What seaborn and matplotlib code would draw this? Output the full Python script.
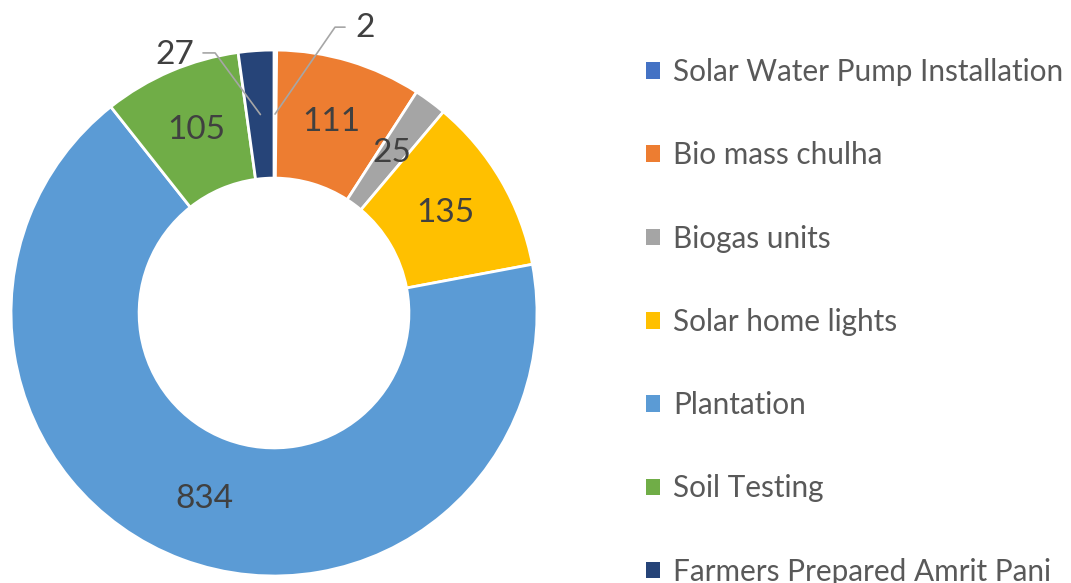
import numpy as np
import matplotlib
matplotlib.use("Agg")
import matplotlib.pyplot as plt
import seaborn as sns
from matplotlib.patches import Patch

# dados do gráfico
categorias = ['Solar Water Pump Installation', 'Bio mass chulha', 'Biogas units',
              'Solar home lights', 'Plantation', 'Soil Testing',
              'Farmers Prepared Amrit Pani']
valores = [2, 111, 25, 135, 834, 105, 27]
cores = ['#4472C4', '#ED7D31', '#A5A5A5', '#FFC000', '#5B9BD5', '#70AD47', '#264478']

sns.set_theme(style='white')
plt.rcParams['font.family'] = ['Lato', 'DejaVu Sans']

fig = plt.figure(figsize=(10.71, 5.83), dpi=100)
ax = fig.add_axes([0.0103, 0.012, 0.4911, 0.9022])

raio_interno = 0.513
wedges, _ = ax.pie(valores, colors=sns.color_palette(cores), startangle=90, counterclock=False,
                   radius=1, wedgeprops=dict(width=1 - raio_interno, edgecolor='white', linewidth=2))
ax.set_xlim(-1, 1)
ax.set_ylim(-1, 1)
ax.set_aspect('equal')
ax.axis('off')

r_meio = (1 + raio_interno) / 2
cor_texto = '#404040'
cor_linha = '#A6A6A6'

# rótulos pequenos ficam fora com linha guia
externos = {
    0: dict(cotovelo=(0.232, 1.087), fim=(0.27, 1.087), texto=(0.346, 1.084)),
    6: dict(cotovelo=(-0.224, 0.989), fim=(-0.27, 0.989), texto=(-0.376, 0.98)),
}

for i, w in enumerate(wedges):
    ang = np.deg2rad((w.theta1 + w.theta2) / 2)
    x, y = r_meio * np.cos(ang), r_meio * np.sin(ang)
    if i in externos:
        e = externos[i]
        ax.plot([x, e['cotovelo'][0], e['fim'][0]], [y, e['cotovelo'][1], e['fim'][1]],
                color=cor_linha, lw=1.2, clip_on=False)
        ax.text(e['texto'][0], e['texto'][1], str(valores[i]), ha='center', va='center',
                fontsize=24, color=cor_texto)
    else:
        ax.text(x, y, str(valores[i]), ha='center', va='center', fontsize=24, color=cor_texto)

handles = [Patch(facecolor=c, edgecolor='none') for c in cores]
fig.legend(handles, categorias, loc='upper left', bbox_to_anchor=(646 / 1071, 1 - 58 / 583),
           frameon=False, fontsize=21.4, labelcolor='#595959', handlelength=0.48, handleheight=0.48,
           handletextpad=0.42, labelspacing=1.86, borderpad=0, borderaxespad=0)

fig.savefig('out.png', dpi=100)
